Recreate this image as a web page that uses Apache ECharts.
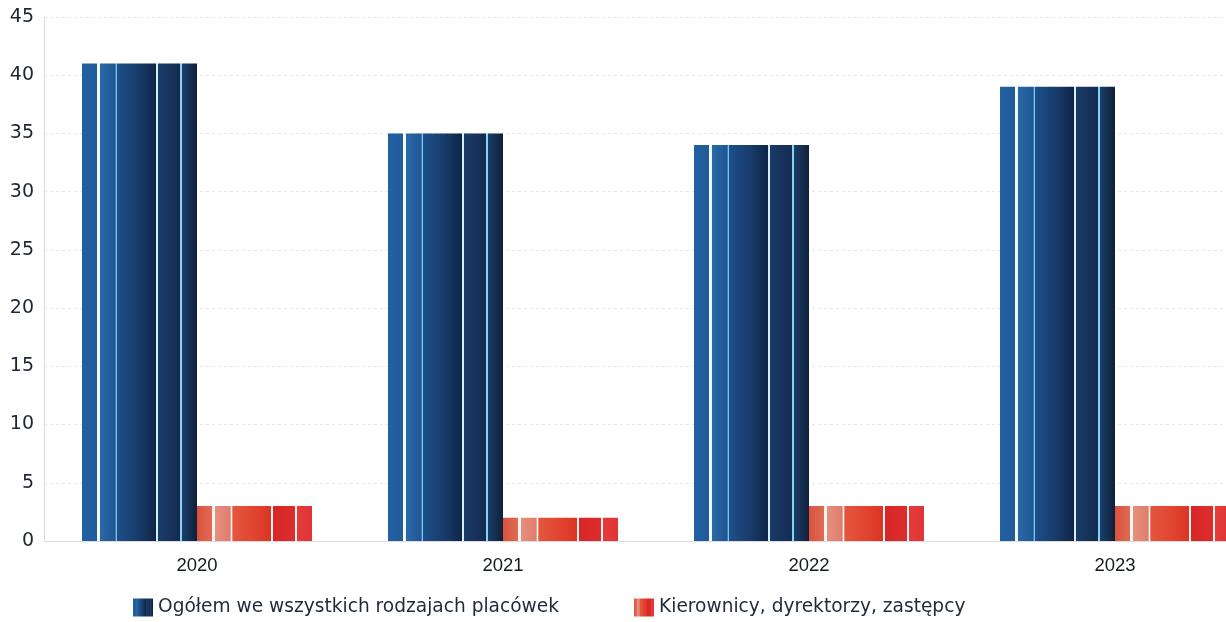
<!DOCTYPE html>
<html>
<head>
<meta charset="utf-8">
<script src="https://cdn.jsdelivr.net/npm/echarts@6/dist/echarts.min.js"></script>
<style>
html,body{margin:0;padding:0;background:#fff;overflow:hidden;width:1226px;height:622px;}
#main{width:1268px;height:622px;}
</style>
</head>
<body>
<div id="main"></div>
<script>
var categories = ['2020', '2021', '2022', '2023'];
var seriesNames = ['Ogółem we wszystkich rodzajach placówek', 'Kierownicy, dyrektorzy, zastępcy'];
var totalValues = [41, 35, 34, 39];
var managerValues = [3, 2, 3, 3];
var yTicks = {min: 0, max: 45, interval: 5};

function stripes(stops) {
  return {
    type: 'linear', x: 0, y: 0, x2: 1, y2: 0,
    colorStops: stops.map(function (s) { return {offset: s[0], color: s[1]}; })
  };
}

var blueFill = stripes([
  [0, '#2161a3'], [0.128, '#225b98'], [0.133, '#f4fbff'], [0.152, '#f4fbff'], [0.157, '#2a6aa8'],
  [0.29, '#1f5592'], [0.294, '#78c6ec'], [0.304, '#78c6ec'], [0.308, '#1d4f8a'],
  [0.5, '#173a69'], [0.64, '#0f2545'], [0.644, '#d4f0ff'], [0.66, '#d4f0ff'], [0.664, '#1a3b68'],
  [0.85, '#132c52'], [0.854, '#86d4f4'], [0.866, '#86d4f4'], [0.87, '#1b3e6a'], [1, '#0f2038']
]);
var redFill = stripes([
  [0, '#d9533e'], [0.128, '#e06a54'], [0.133, '#fff6f4'], [0.152, '#fff6f4'], [0.157, '#e6907f'],
  [0.29, '#e07d6c'], [0.294, '#fff3f0'], [0.306, '#fff3f0'], [0.31, '#e3563f'],
  [0.5, '#e1442f'], [0.64, '#dc3426'], [0.644, '#fff5f3'], [0.66, '#fff5f3'], [0.664, '#d82626'],
  [0.85, '#dc2d2d'], [0.854, '#fff5f3'], [0.868, '#fff5f3'], [0.872, '#e43b3b'], [1, '#e23434']
]);

var chart = echarts.init(document.getElementById('main'), null, {renderer: 'canvas'});
chart.setOption({
  backgroundColor: '#ffffff',
  animation: false,
  grid: {left: 44, top: 17, width: 1224, bottom: 81, containLabel: false},
  legend: {
    data: seriesNames,
    left: 128,
    top: 593,
    icon: 'rect',
    itemWidth: 20,
    itemHeight: 18,
    itemGap: 75,
    textStyle: {fontFamily: 'DejaVu Sans', fontSize: 18.6, color: '#1f2a3a'}
  },
  xAxis: {
    type: 'category',
    data: categories,
    axisLine: {show: true, lineStyle: {color: '#dcdcdc', width: 1}},
    axisTick: {show: false},
    axisLabel: {fontFamily: 'Liberation Sans', fontSize: 18.5, color: '#141a26', margin: 15}
  },
  yAxis: {
    type: 'value',
    min: yTicks.min,
    max: yTicks.max,
    interval: yTicks.interval,
    axisLine: {show: true, lineStyle: {color: '#d8dbe2', width: 1}},
    axisTick: {show: false},
    splitLine: {show: true, lineStyle: {color: '#e6e6e6', type: [3, 3], width: 1}},
    axisLabel: {fontFamily: 'DejaVu Sans', fontSize: 19, color: '#1f2533', margin: 10}
  },
  series: [
    {
      name: seriesNames[0],
      type: 'bar',
      data: totalValues,
      barWidth: 115,
      barGap: '0%',
      itemStyle: {color: blueFill}
    },
    {
      name: seriesNames[1],
      type: 'bar',
      data: managerValues,
      barWidth: 115,
      barGap: '0%',
      itemStyle: {color: redFill}
    }
  ]
});
</script>
</body>
</html>
